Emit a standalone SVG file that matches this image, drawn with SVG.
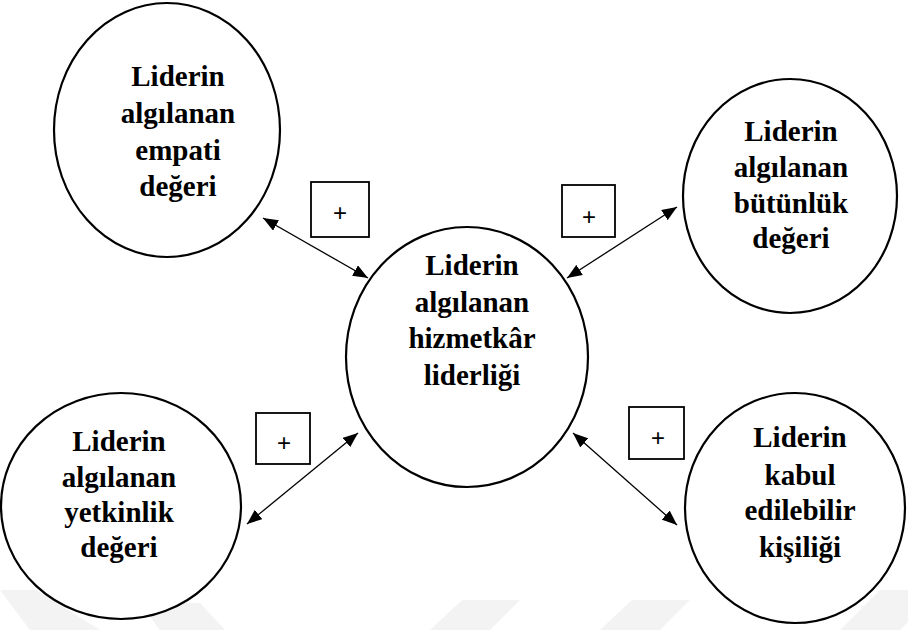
<svg xmlns="http://www.w3.org/2000/svg" width="908" height="630" viewBox="0 0 908 630">
  <style>
    .node { fill: #ffffff; stroke: #000000; stroke-width: 2.2; }
    .label { font-family: "Liberation Serif", "Times New Roman", serif; font-weight: bold; font-size: 29px; fill: #000000; text-anchor: middle; }
    .sign { fill: #ffffff; stroke: #000000; stroke-width: 1.8; }
    .plus { font-family: "Liberation Sans", Arial, sans-serif; font-size: 24px; fill: #000000; text-anchor: middle; }
    .link { stroke: #000000; stroke-width: 1.3; fill: none; marker-start: url(#head); marker-end: url(#head); }
    .mark { fill: #f3f3f3; }
  </style>
  <defs>
    <marker id="head" viewBox="0 0 15 12" refX="15" refY="6" markerWidth="15" markerHeight="12" markerUnits="userSpaceOnUse" orient="auto-start-reverse">
      <path d="M0,0 L15,6 L0,12 Z" fill="#000000"/>
    </marker>
  </defs>

  <rect width="908" height="630" fill="#ffffff"/>

  <!-- faint background stripes along the bottom edge -->
  <g id="backdrop">
    <polygon class="mark" points="0,590 36,590 100,630 30,630"/>
    <polygon class="mark" points="140,603 200,603 225,630 160,630"/>
    <polygon class="mark" points="430,630 490,630 520,600 462,600"/>
    <polygon class="mark" points="600,630 660,630 690,600 632,600"/>
    <polygon class="mark" points="840,630 900,630 908,622 908,590 880,590"/>
  </g>

  <g id="connectors">
    <line class="link" x1="263" y1="218" x2="368" y2="278"/>
    <line class="link" x1="567" y1="278" x2="677" y2="207"/>
    <line class="link" x1="358" y1="433" x2="247" y2="524"/>
    <line class="link" x1="573" y1="433" x2="677" y2="525"/>
  </g>

  <g id="sign-empati">
    <rect class="sign" x="311" y="182" width="58" height="55"/>
    <text class="plus" x="340" y="221">+</text>
  </g>
  <g id="sign-butunluk">
    <rect class="sign" x="562" y="185" width="53" height="52"/>
    <text class="plus" x="589" y="225">+</text>
  </g>
  <g id="sign-yetkinlik">
    <rect class="sign" x="256" y="413" width="54" height="51"/>
    <text class="plus" x="284" y="451">+</text>
  </g>
  <g id="sign-kisilik">
    <rect class="sign" x="629" y="407" width="55" height="52"/>
    <text class="plus" x="658" y="446">+</text>
  </g>

  <g id="node-empati">
    <ellipse class="node" cx="167" cy="130" rx="113" ry="127"/>
    <text class="label" x="178" y="86">Liderin</text>
    <text class="label" x="178" y="123">algılanan</text>
    <text class="label" x="178" y="160">empati</text>
    <text class="label" x="178" y="196">değeri</text>
  </g>

  <g id="node-butunluk">
    <ellipse class="node" cx="790" cy="196" rx="107" ry="117"/>
    <text class="label" x="791" y="141">Liderin</text>
    <text class="label" x="791" y="177">algılanan</text>
    <text class="label" x="791" y="213">bütünlük</text>
    <text class="label" x="791" y="248">değeri</text>
  </g>

  <g id="node-hizmetkar">
    <ellipse class="node" cx="467" cy="357" rx="121" ry="130"/>
    <text class="label" x="472" y="275">Liderin</text>
    <text class="label" x="472" y="312">algılanan</text>
    <text class="label" x="472" y="348">hizmetkâr</text>
    <text class="label" x="472" y="385">liderliği</text>
  </g>

  <g id="node-yetkinlik">
    <ellipse class="node" cx="121" cy="506" rx="120" ry="113"/>
    <text class="label" x="119" y="451">Liderin</text>
    <text class="label" x="119" y="487">algılanan</text>
    <text class="label" x="119" y="522">yetkinlik</text>
    <text class="label" x="119" y="557">değeri</text>
  </g>

  <g id="node-kisilik">
    <ellipse class="node" cx="795" cy="508" rx="110" ry="115"/>
    <text class="label" x="800" y="447">Liderin</text>
    <text class="label" x="800" y="485">kabul</text>
    <text class="label" x="800" y="520">edilebilir</text>
    <text class="label" x="800" y="557">kişiliği</text>
  </g>
</svg>
